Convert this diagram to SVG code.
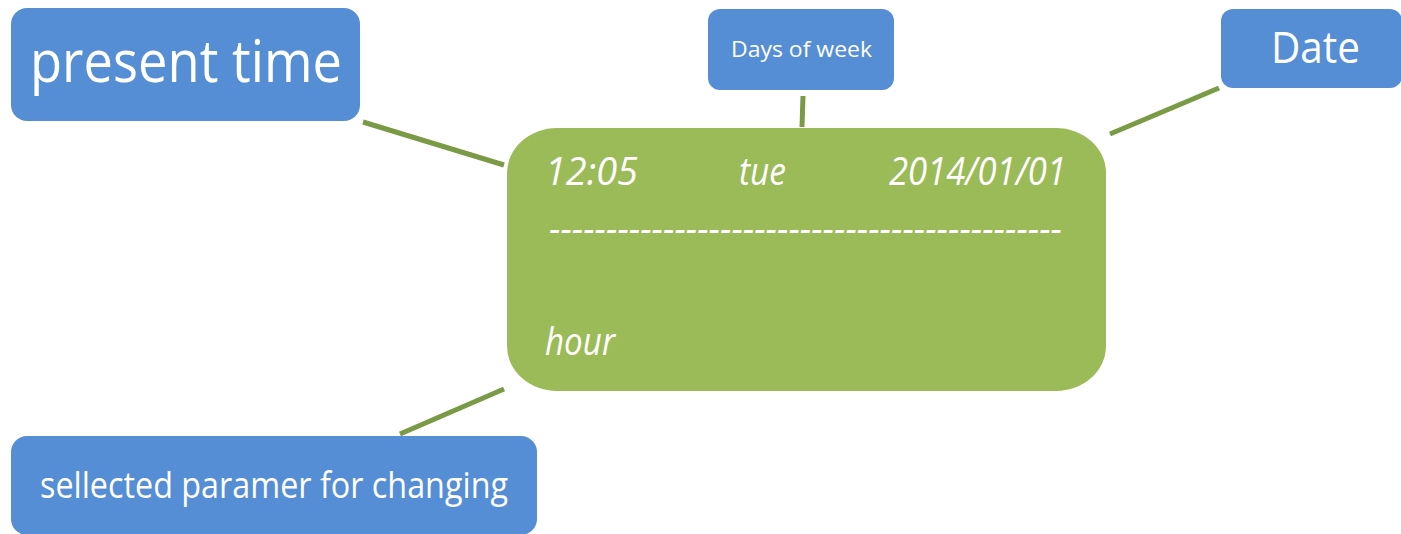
<svg xmlns="http://www.w3.org/2000/svg" width="1401" height="534" viewBox="0 0 1401 534">
<style>
.blue{fill:#558ED5}
.green{fill:#9BBB59}
.lbl{fill:#FFFFFF;font-family:"Open Sans","Liberation Sans",sans-serif}
.it{fill:#FFFFFF;font-family:"Open Sans","Liberation Sans",sans-serif;font-style:italic;font-size:38px}
.conn{stroke:#7A9A45;stroke-width:5;fill:none}
</style>
<rect width="1401" height="534" fill="#FFFFFF"/>
<g id="connectors">
<line class="conn" x1="363" y1="122" x2="504" y2="165"/>
<line class="conn" x1="803" y1="96" x2="802" y2="127"/>
<line class="conn" x1="1219" y1="88" x2="1110" y2="134"/>
<line class="conn" x1="504" y1="389" x2="400" y2="434"/>
</g>
<g id="display">
<rect class="green" x="507" y="128" width="599" height="263" rx="50" ry="45"/>
<text class="it" x="545" y="185" textLength="93" lengthAdjust="spacingAndGlyphs">12:05</text>
<text class="it" x="739" y="185" textLength="47" lengthAdjust="spacingAndGlyphs">tue</text>
<text class="it" x="889" y="185" textLength="177" lengthAdjust="spacingAndGlyphs">2014/01/01</text>
<text class="it" x="549" y="242" textLength="513" lengthAdjust="spacingAndGlyphs">---------------------------------------------</text>
<text class="it" x="545" y="355" textLength="70" lengthAdjust="spacingAndGlyphs">hour</text>
</g>
<g id="present-time">
<rect class="blue" x="11" y="8" width="349" height="113" rx="16"/>
<text class="lbl" x="30" y="82" font-size="58" textLength="312" lengthAdjust="spacingAndGlyphs">present time</text>
</g>
<g id="days-of-week">
<rect class="blue" x="708" y="9" width="186" height="81" rx="12"/>
<text class="lbl" x="731" y="57" font-size="21" textLength="141" lengthAdjust="spacingAndGlyphs">Days of week</text>
</g>
<g id="date">
<rect class="blue" x="1221" y="9" width="181" height="79" rx="12"/>
<text class="lbl" x="1271" y="63" font-size="44" textLength="89" lengthAdjust="spacingAndGlyphs">Date</text>
</g>
<g id="selected-param">
<rect class="blue" x="11" y="436" width="526" height="99" rx="16"/>
<text class="lbl" x="40" y="498" font-size="36" textLength="468" lengthAdjust="spacingAndGlyphs">sellected paramer for changing</text>
</g>
</svg>
